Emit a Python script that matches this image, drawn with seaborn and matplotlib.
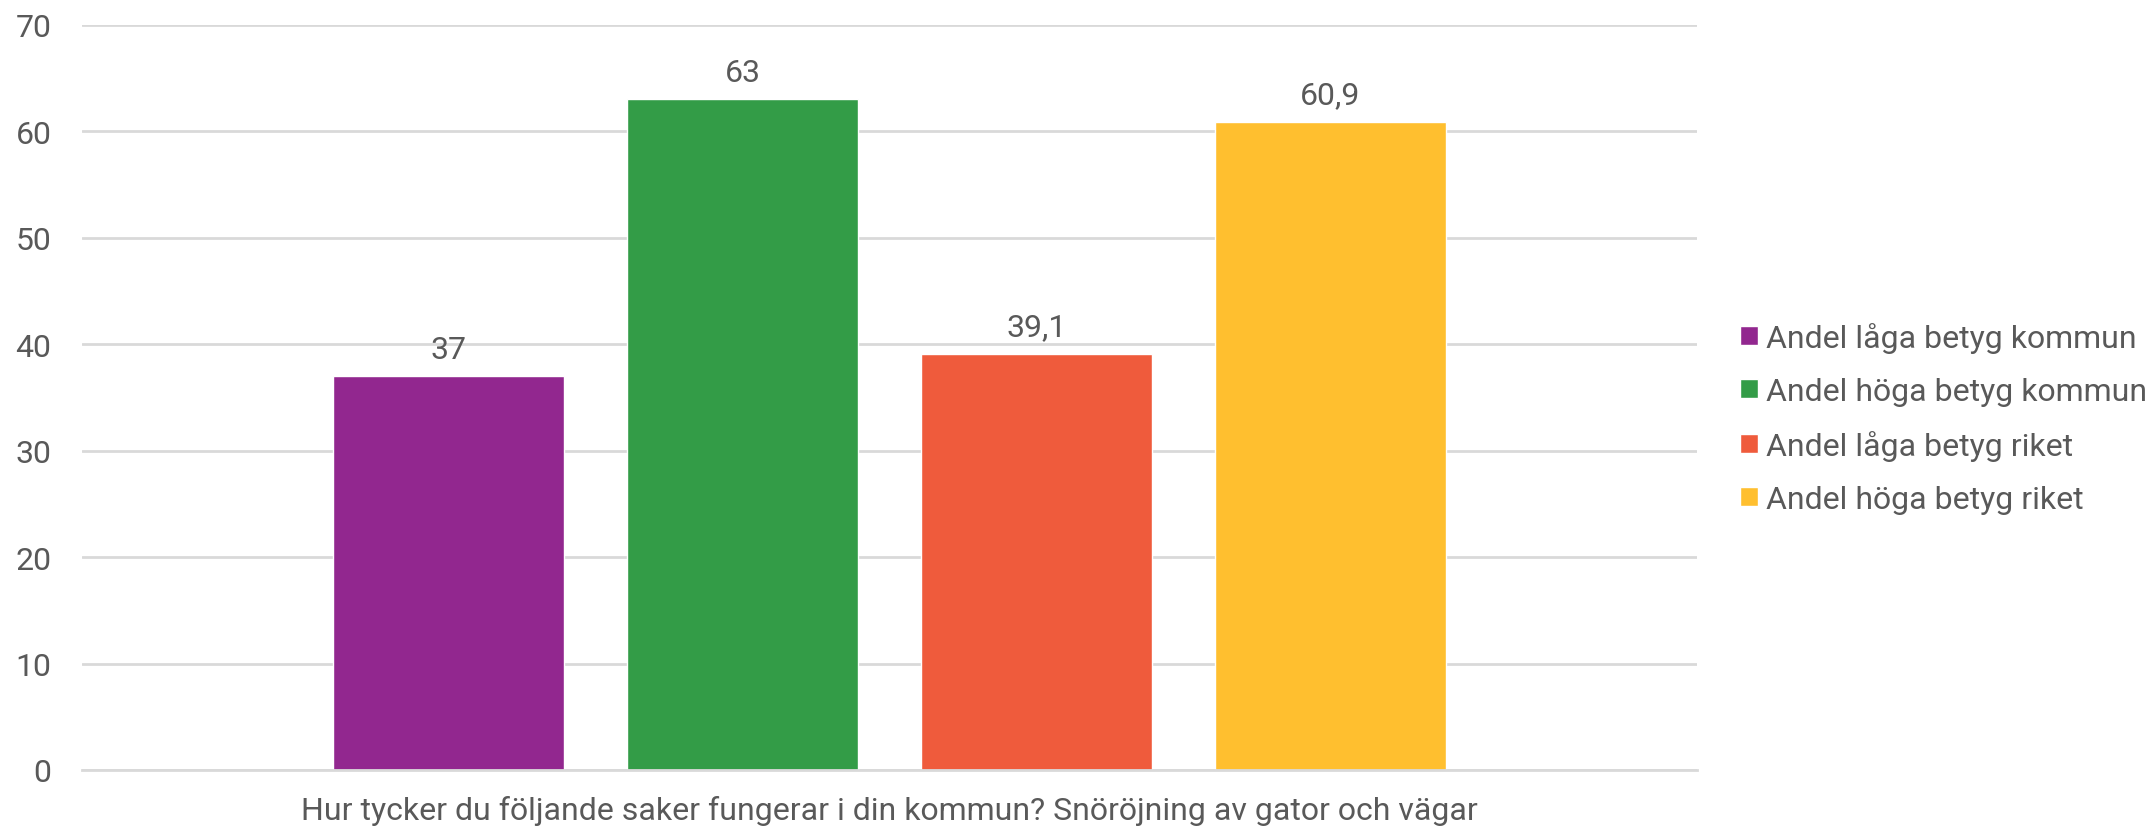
import matplotlib

matplotlib.use("Agg")

import matplotlib.pyplot as plt
import pandas as pd
import seaborn as sns

CATEGORY = "Hur tycker du följande saker fungerar i din kommun? Snöröjning av gator och vägar"
SERIES = [
    "Andel låga betyg kommun",
    "Andel höga betyg kommun",
    "Andel låga betyg riket",
    "Andel höga betyg riket",
]
VALUES = [37, 63, 39.1, 60.9]
COLORS = ["#92278F", "#339C47", "#EF5B3C", "#FFBF2F"]

TEXT = "#595959"
GRID = "#D9D9D9"

sns.set_theme(style="white")
plt.rcParams["font.family"] = ["Roboto", "DejaVu Sans"]

df = pd.DataFrame({"category": [CATEGORY] * len(SERIES), "series": SERIES, "value": VALUES})

fig = plt.figure(figsize=(21.49, 8.29), dpi=100)
ax = fig.add_axes([0.0382, 0.070, 0.7515, 0.899])

sns.barplot(
    data=df, x="category", y="value", hue="series", hue_order=SERIES,
    palette=COLORS, width=0.728, gap=0.214, saturation=1, ax=ax, legend=True,
)

for cont in ax.containers:
    labels = [f"{v:g}".replace(".", ",") for v in cont.datavalues]
    ax.bar_label(cont, labels=labels, padding=9, fontsize=23, color=TEXT)

ax.set_xlim(-0.5, 0.5)
ax.set_ylim(0, 70)
ax.set_yticks(range(0, 71, 10))
ax.yaxis.grid(True, color=GRID, linewidth=2)
ax.set_axisbelow(True)
for side in ["top", "right", "left"]:
    ax.spines[side].set_visible(False)
ax.spines["bottom"].set_color(GRID)
ax.spines["bottom"].set_linewidth(2)
ax.set_xlabel("")
ax.set_ylabel("")
ax.tick_params(axis="y", length=0, labelsize=23, labelcolor=TEXT, pad=22)
ax.tick_params(axis="x", length=0, labelsize=23, labelcolor=TEXT, pad=18)
ax.set_xticks([-0.5, 0.5], minor=True)
ax.tick_params(axis="x", which="minor", length=10, width=2, color=GRID)

handles, labels = ax.get_legend_handles_labels()
ax.legend_.remove()
fig.legend(
    handles, labels, loc="center left", bbox_to_anchor=(0.7965, 0.495),
    frameon=False, fontsize=23, labelcolor=TEXT,
    handlelength=0.56, handleheight=0.56, handletextpad=0.25, labelspacing=0.75,
)

fig.savefig("out.png", dpi=100)
